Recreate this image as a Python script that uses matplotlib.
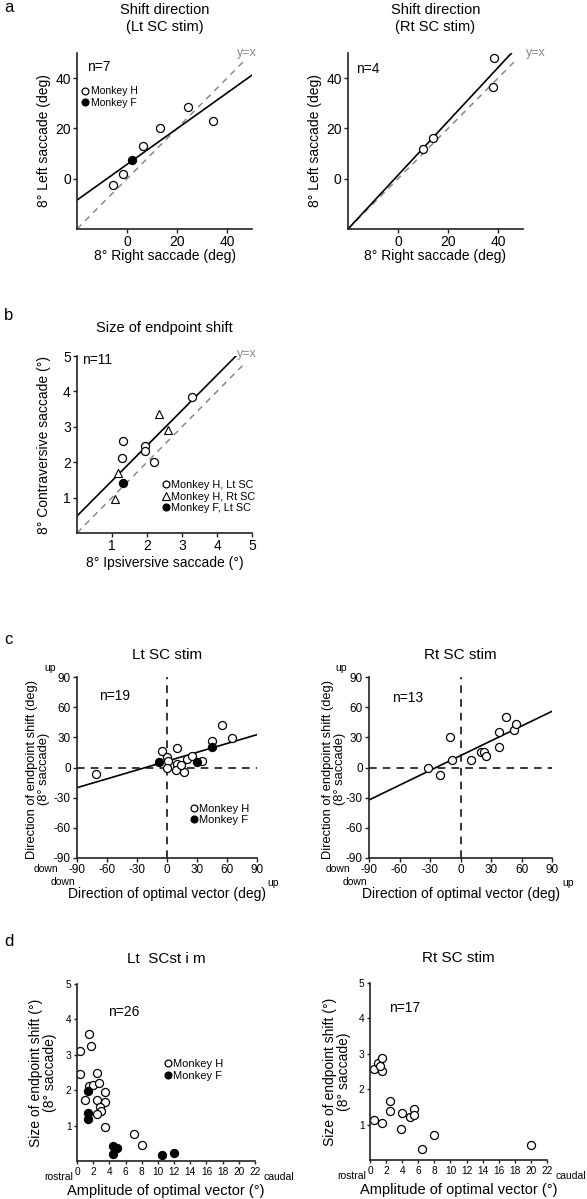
import matplotlib
matplotlib.use("Agg")
import matplotlib.pyplot as plt
import numpy as np

plt.rcParams['font.family'] = ['Liberation Sans', 'DejaVu Sans']
plt.rcParams['axes.unicode_minus'] = False

# ---- panel a : shift direction ----
a_lt_hx = [-5.5, -1.7, 6.5, 13, 24.5, 34.5]
a_lt_hy = [-2.5, 2, 13, 20, 28.5, 23]
a_lt_fx = [2]
a_lt_fy = [7.3]
a_lt_fit = (0.71, 5.7)          # slope, intercept

a_rt_hx = [38.5, 38, 10, 14]
a_rt_hy = [48, 36.5, 12, 16]
a_rt_fit = (1.07, 1.4)

# ---- panel b : size of endpoint shift ----
b_hl_x = [3.28, 1.31, 1.29, 1.93, 1.93, 2.2]
b_hl_y = [3.84, 2.59, 2.13, 2.45, 2.33, 2.0]
b_hr_x = [2.35, 2.6, 1.18, 1.08]
b_hr_y = [3.35, 2.9, 1.7, 0.97]
b_fl_x = [1.32]
b_fl_y = [1.4]
b_fit = (0.995, 0.48)

# ---- panel c : direction of shift vs optimal vector ----
c_lt_hx = [-71, -5, 0, 0.5, 0, 9.5, 9.5, 9, 17, 20, 25, 34.5, 45, 54.5, 65, 14]
c_lt_hy = [-6, 16.5, 10, 6, 0, 19, 3, -2.5, -4, 8, 11, 6.5, 26, 42.5, 29, 2]
c_lt_fx = [-8, 30, 45]
c_lt_fy = [5, 5, 20.5]
c_lt_fit = (0.293, 6.3)

c_rt_hx = [-32, -20, -10, -8, 10, 20, 23, 25, 37.5, 37.5, 45, 52.5, 55]
c_rt_hy = [-0.5, -7, 30, 7, 7.5, 15, 15.5, 11, 35.5, 20, 50.5, 37, 43]
c_rt_fit = (0.49, 11.8)

# ---- panel d : size of shift vs amplitude ----
d_lt_hx = [0.4, 0.4, 1.45, 1.7, 1.5, 2.0, 1.0, 2.5, 2.7, 2.5, 3.5, 3.5, 2.9, 3.0, 2.5, 3.5, 7.0, 8.0]
d_lt_hy = [3.1, 2.45, 3.58, 3.25, 2.12, 2.15, 1.72, 2.5, 2.2, 1.72, 1.95, 1.67, 1.52, 1.4, 1.33, 0.95, 0.77, 0.45]
d_lt_fx = [1.4, 1.4, 1.4, 4.5, 5.0, 4.5, 10.5, 12.0]
d_lt_fy = [1.97, 1.37, 1.2, 0.43, 0.36, 0.21, 0.18, 0.23]

d_rt_hx = [0.45, 1.0, 1.5, 1.45, 1.2, 0.5, 1.5, 2.5, 2.5, 4.0, 3.8, 5.0, 5.5, 5.5, 8.0, 6.5, 20.0]
d_rt_hy = [2.57, 2.75, 2.87, 2.52, 2.65, 1.13, 1.04, 1.68, 1.38, 1.32, 0.88, 1.22, 1.45, 1.28, 0.7, 0.3, 0.43]

W, H = 587, 1199
fig = plt.figure(figsize=(W / 100, H / 100), dpi=100)


def px_axes(x0, y0, x1, y1):
    return fig.add_axes([x0 / W, 1 - y1 / H, (x1 - x0) / W, (y1 - y0) / H])


def style(ax, tsize):
    for s in ['top', 'right']:
        ax.spines[s].set_visible(False)
    for s in ['left', 'bottom']:
        ax.spines[s].set_linewidth(1.2)
        ax.spines[s].set_color('#222222')
    ax.tick_params(labelsize=tsize, length=3, width=1, color='#222222', pad=1.5)


open_kw = dict(ls='none', marker='o', mfc='white', mec='black', mew=0.9, ms=5.8)
fill_kw = dict(ls='none', marker='o', mfc='black', mec='black', mew=0.9, ms=5.8)
tri_kw = dict(ls='none', marker='^', mfc='white', mec='black', mew=0.8, ms=6.2)
dash_gray = dict(color='#8a8a8a', lw=1.1, dashes=(4, 3.5))
dash_blk = dict(color='black', lw=1.1, dashes=(5, 4))
leg_kw = dict(frameon=False, handlelength=0.6, handletextpad=0.2, borderpad=0,
              borderaxespad=0, labelspacing=0.15, markerscale=0.85)

# ================= a left =================
ax = px_axes(77, 53, 252, 229)
style(ax, 10)
ax.plot([-20, 47.5], [-20, 47.5], **dash_gray)
xx = np.array([-20, 50])
ax.plot(xx, a_lt_fit[0] * xx + a_lt_fit[1], color='black', lw=1.2)
ax.plot(a_lt_hx, a_lt_hy, label='Monkey H', **open_kw)
ax.plot(a_lt_fx, a_lt_fy, label='Monkey F', **fill_kw)
ax.set_xlim(-20, 50)
ax.set_ylim(-20, 50)
ax.set_xticks([0, 20, 40])
ax.set_yticks([0, 20, 40])
ax.text(-16, 44.5, 'n=7', fontsize=10, va='center')
ax.text(48, 50, 'y=x', fontsize=9, color='#8a8a8a', ha='center', va='center', clip_on=False)
ax.legend(loc='upper left', bbox_to_anchor=(0.03, 0.81), fontsize=7.5, **leg_kw)
ax.set_xlabel('8° Right saccade (deg)', fontsize=10)
ax.set_ylabel('8° Left saccade (deg)', fontsize=10)
ax.xaxis.set_label_coords(0.5, -0.115)
ax.yaxis.set_label_coords(-0.15, 0.5)
ax.set_title('Shift direction\n(Lt SC stim)', fontsize=10.5, y=1.11, pad=0, va='bottom')

# ================= a right =================
ax = px_axes(348, 53, 523, 229)
style(ax, 10)
ax.plot([-20, 47], [-20, 47], **dash_gray)
xx = np.array([-20, (50 - a_rt_fit[1]) / a_rt_fit[0]])
ax.plot(xx, a_rt_fit[0] * xx + a_rt_fit[1], color='black', lw=1.2)
ax.plot(a_rt_hx, a_rt_hy, **open_kw)
ax.set_xlim(-20, 50)
ax.set_ylim(-20, 50)
ax.set_xticks([0, 20, 40])
ax.set_yticks([0, 20, 40])
ax.text(-16.6, 43.6, 'n=4', fontsize=10, va='center')
ax.text(51, 50, 'y=x', fontsize=9, color='#8a8a8a', ha='left', va='center', clip_on=False)
ax.set_xlabel('8° Right saccade (deg)', fontsize=10)
ax.set_ylabel('8° Left saccade (deg)', fontsize=10)
ax.xaxis.set_label_coords(0.5, -0.115)
ax.yaxis.set_label_coords(-0.15, 0.5)
ax.set_title('Shift direction\n(Rt SC stim)', fontsize=10.5, y=1.11, pad=0, va='bottom')

# ================= b =================
ax = px_axes(77, 356, 252, 533)
style(ax, 10)
ax.plot([0, 4.8], [0, 4.8], **dash_gray)
xx = np.array([0, (5 - b_fit[1]) / b_fit[0]])
ax.plot(xx, b_fit[0] * xx + b_fit[1], color='black', lw=1.2)
ax.plot(b_hl_x, b_hl_y, label='Monkey H, Lt SC', **open_kw)
ax.plot(b_hr_x, b_hr_y, label='Monkey H, Rt SC', **tri_kw)
ax.plot(b_fl_x, b_fl_y, label='Monkey F, Lt SC', **fill_kw)
ax.set_xlim(0, 5)
ax.set_ylim(0, 5)
ax.set_xticks([1, 2, 3, 4, 5])
ax.set_yticks([1, 2, 3, 4, 5])
ax.text(0.13, 4.89, 'n=11', fontsize=10, va='center')
ax.text(4.85, 5.05, 'y=x', fontsize=9, color='#8a8a8a', ha='center', va='center', clip_on=False)
ax.legend(loc='upper left', bbox_to_anchor=(0.49, 0.30), fontsize=7.8, **leg_kw)
ax.set_xlabel('8° Ipsiversive saccade (°)', fontsize=10)
ax.set_ylabel('8° Contraversive saccade (°)', fontsize=10)
ax.xaxis.set_label_coords(0.5, -0.13)
ax.yaxis.set_label_coords(-0.15, 0.5)
ax.set_title('Size of endpoint shift', fontsize=10.5, y=1.12, pad=0, va='bottom')


# ================= c =================
def panel_c(ax, fit, ntext, npos, title, ylab_x):
    style(ax, 8.5)
    ax.plot([-90, 90], [0, 0], **dash_blk)
    ax.plot([0, 0], [-90, 90], **dash_blk)
    xx = np.array([-90, 90])
    ax.plot(xx, fit[0] * xx + fit[1], color='black', lw=1.2)
    ax.set_xlim(-90, 90)
    ax.set_ylim(-90, 90)
    ax.set_xticks(range(-90, 91, 30))
    ax.set_yticks(range(-90, 91, 30))
    ax.text(npos[0], npos[1], ntext, fontsize=10, va='center')
    ax.text(-117, 99, 'up', fontsize=7.5, ha='center', va='center', clip_on=False)
    ax.text(-121, -101, 'down', fontsize=7.5, ha='center', va='center', clip_on=False)
    ax.text(-104, -114, 'down', fontsize=7.5, ha='center', va='center', clip_on=False)
    ax.text(106, -115, 'up', fontsize=7.5, ha='center', va='center', clip_on=False)
    ax.set_xlabel('Direction of optimal vector (deg)', fontsize=10)
    ax.set_ylabel('Direction of endpoint shift (deg)\n(8° saccade)', fontsize=9.3, linespacing=1.0)
    ax.xaxis.set_label_coords(0.5, -0.16)
    ax.yaxis.set_label_coords(ylab_x, 0.49)
    ax.set_title(title, fontsize=11, y=1.085, pad=0, va='bottom')


ax = px_axes(77, 677, 257, 858)
panel_c(ax, c_lt_fit, 'n=19', (-67.7, 71), 'Lt SC stim', -0.15)
ax.plot(c_lt_hx, c_lt_hy, label='Monkey H', **open_kw)
ax.plot(c_lt_fx, c_lt_fy, label='Monkey F', **fill_kw)
ax.legend(loc='upper left', bbox_to_anchor=(0.63, 0.30), fontsize=8, **leg_kw)

ax = px_axes(369, 677, 552, 858)
panel_c(ax, c_rt_fit, 'n=13', (-67.6, 69.5), 'Rt SC stim', -0.125)
ax.plot(c_rt_hx, c_rt_hy, **open_kw)


# ================= d =================
def panel_d(ax, ntext, npos, title, ylab_x):
    style(ax, 7.3)
    ax.set_xlim(0, 22)
    ax.set_ylim(0, 5)
    ax.set_xticks(range(0, 23, 2))
    ax.set_yticks([1, 2, 3, 4, 5])
    ax.tick_params(length=2.5)
    ax.text(npos[0], npos[1], ntext, fontsize=10, va='center')
    ax.text(-0.5, -0.45, 'rostral', fontsize=7.5, ha='right', va='center', clip_on=False)
    ax.text(23.0, -0.45, 'caudal', fontsize=7.5, ha='left', va='center', clip_on=False)
    ax.set_xlabel('Amplitude of optimal vector (°)', fontsize=10.5)
    ax.set_ylabel('Size of endpoint shift (°)\n(8° saccade)', fontsize=10, linespacing=1.0)
    ax.xaxis.set_label_coords(0.5, -0.13)
    ax.yaxis.set_label_coords(ylab_x, 0.5)
    ax.set_title(title, fontsize=11, y=1.10, pad=0, va='bottom')


ax = px_axes(77, 984, 255, 1161)
panel_d(ax, 'n=26', (3.8, 4.22), 'Lt  SCst i m', -0.115)
ax.plot(d_lt_hx, d_lt_hy, label='Monkey H', **open_kw)
ax.plot(d_lt_fx, d_lt_fy, label='Monkey F', **fill_kw)
ax.legend(loc='upper left', bbox_to_anchor=(0.49, 0.575), fontsize=8, **leg_kw)

ax = px_axes(370, 983, 547, 1160)
panel_d(ax, 'n=17', (2.36, 4.28), 'Rt SC stim', -0.11)
ax.plot(d_rt_hx, d_rt_hy, **open_kw)

# panel letters
for lab, y in [('a', 8), ('b', 316), ('c', 640), ('d', 942)]:
    fig.text(4 / W, 1 - y / H, lab, fontsize=12, ha='left', va='center')

fig.savefig('out.png', dpi=100)
